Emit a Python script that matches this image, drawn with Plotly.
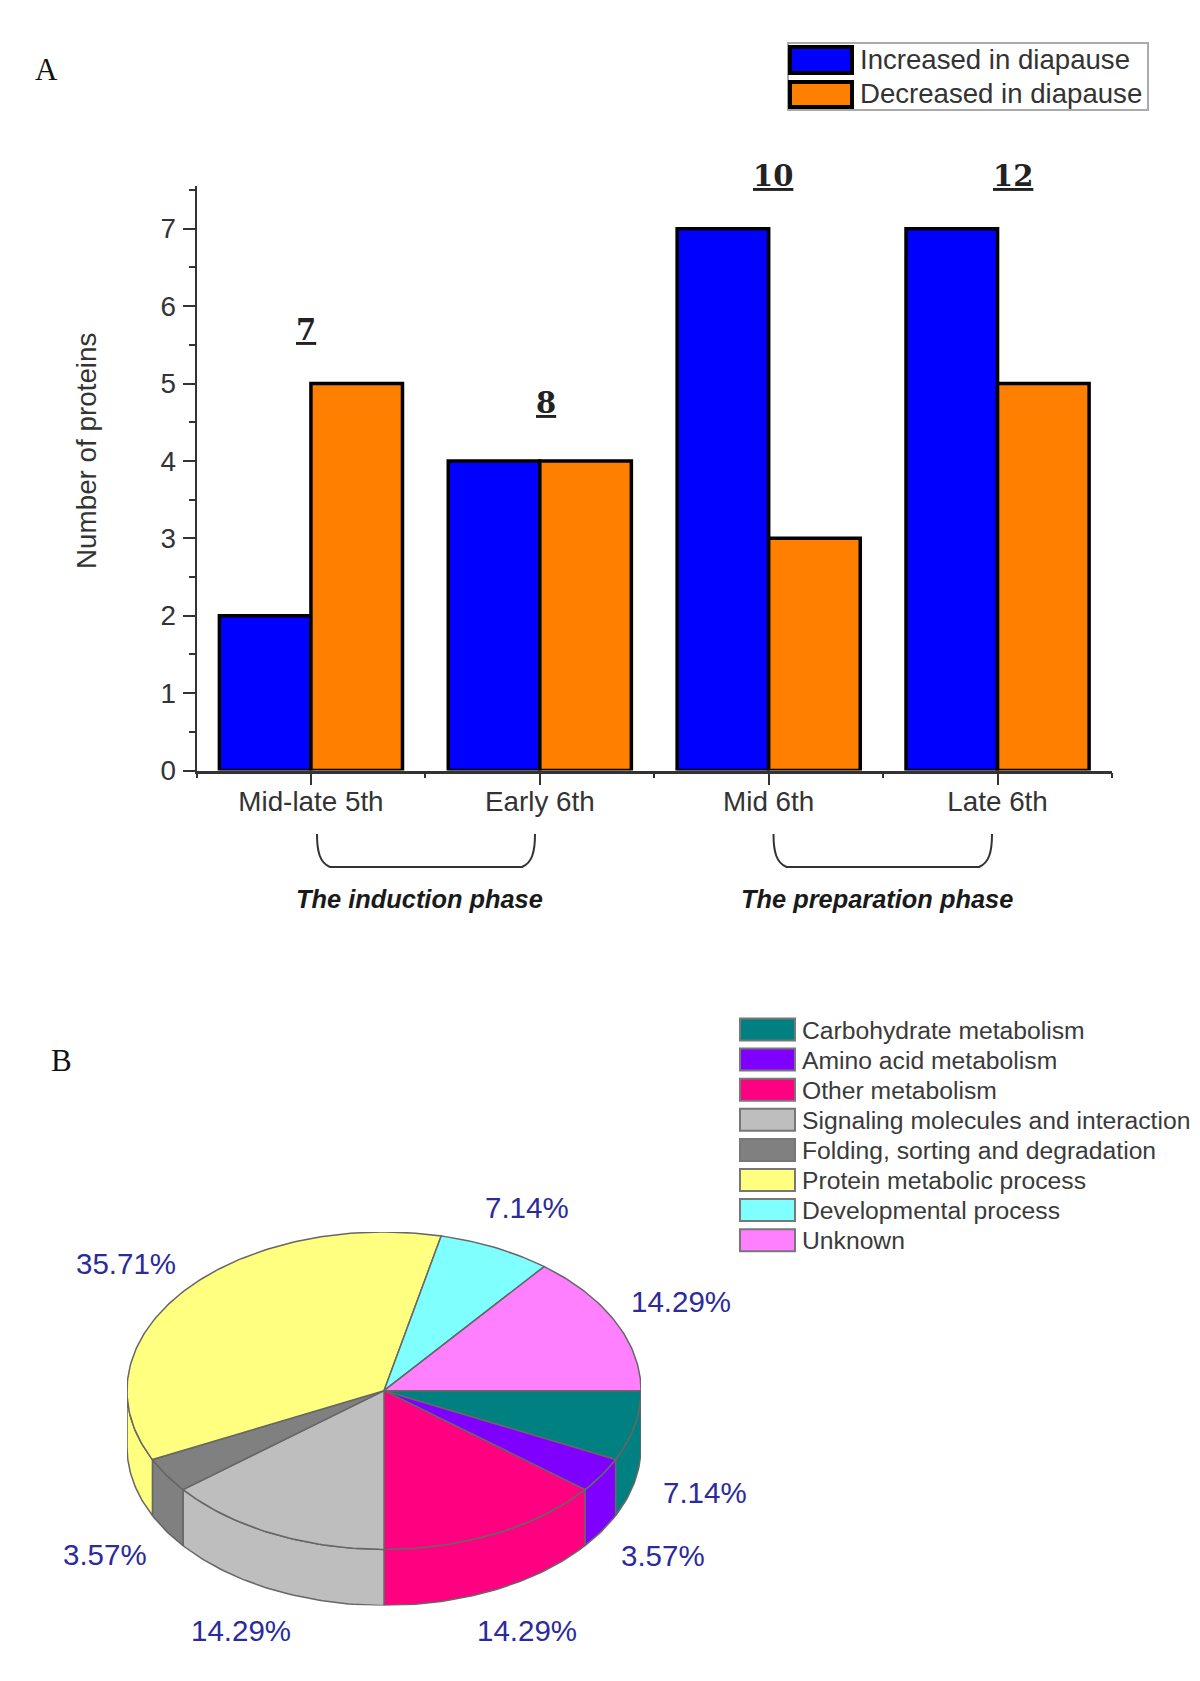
import numpy as np
import plotly.graph_objects as go

# ---- data ----
categories = ["Mid-late 5th", "Early 6th", "Mid 6th", "Late 6th"]
increased = [2, 4, 7, 7]
decreased = [5, 4, 3, 5]
series_names = ["Increased in diapause", "Decreased in diapause"]
phases = ["The induction phase", "The preparation phase"]

pie_labels = ["Carbohydrate metabolism", "Amino acid metabolism", "Other metabolism",
              "Signaling molecules and interaction", "Folding, sorting and degradation",
              "Protein metabolic process", "Developmental process", "Unknown"]
pie_shares = [7.14, 3.57, 14.29, 14.29, 3.57, 35.71, 7.14, 14.29]

# ---- style ----
W, H = 1200, 1681
BLUE, ORANGE = "#0000FF", "#FF8000"
pie_colors = ["#008080", "#8000FF", "#FF0080", "#BEBEBE", "#808080", "#FFFF80", "#80FFFF", "#FF80FF"]
INK = "#333333"
SANS = "Liberation Sans, Arial, sans-serif"
SERIF = "Liberation Serif, Times New Roman, serif"
PCT = "#2B2B9B"
EDGE = "#666666"


def px(x):
    return x / W


def py(y):
    return 1 - y / H


def note(x, y, text, size, color=INK, family=SANS, **kw):
    return dict(xref="paper", yref="paper", x=px(x), y=py(y), text=text, showarrow=False,
                xanchor=kw.pop("xanchor", "center"), yanchor="middle",
                font=dict(size=size, color=color, family=family), **kw)


def rect(x0, y0, x1, y1, fill, line, width):
    return dict(type="rect", xref="paper", yref="paper", x0=px(x0), x1=px(x1), y0=py(y1), y1=py(y0),
                fillcolor=fill, line=dict(color=line, width=width))


def bracket(x0, x1):
    yt, yb = 834, 867
    p = (f"M {px(x0)} {py(yt)} C {px(x0)} {py(yt + 18)}, {px(x0 + 3)} {py(yb - 4)}, {px(x0 + 13)} {py(yb)} "
         f"L {px(x1 - 13)} {py(yb)} C {px(x1 - 3)} {py(yb - 4)}, {px(x1)} {py(yt + 18)}, {px(x1)} {py(yt)}")
    return dict(type="path", xref="paper", yref="paper", path=p, line=dict(color=INK, width=2))


fig = go.Figure()

# ---- panel A: grouped bars ----
xs = list(range(len(categories)))
for name, vals, col in zip(series_names, [increased, decreased], [BLUE, ORANGE]):
    fig.add_trace(go.Bar(x=xs, y=vals, name=name, marker=dict(color=col, line=dict(color="#000000", width=3.5)),
                         showlegend=False, hoverinfo="skip"))

# ---- panel B: tilted pie, drawn from the shares ----
DEPTH = 0.353
edges = np.cumsum([0] + pie_shares) / sum(pie_shares) * 2 * np.pi


def arc(a, b):
    t = np.linspace(a, b, max(2, int((b - a) * 60)))
    return np.cos(t), -np.sin(t)


def poly(x, y, col):
    fig.add_trace(go.Scatter(x=x, y=y, xaxis="x2", yaxis="y2", mode="lines", fill="toself", fillcolor=col,
                             line=dict(color=EDGE, width=1.5), showlegend=False, hoverinfo="skip"))


# side walls (only the front half shows)
for i, col in enumerate(pie_colors):
    a, b = edges[i], min(edges[i + 1], np.pi)
    if a < b:
        x, y = arc(a, b)
        poly(np.r_[x, x[::-1], x[0]], np.r_[y, y[::-1] - DEPTH, y[0]], col)
# top face
for i, col in enumerate(pie_colors):
    x, y = arc(edges[i], edges[i + 1])
    poly(np.r_[0, x, 0], np.r_[0, y, 0], col)

# ---- annotations and legends ----
annotations = []
shapes = []

# totals over the bar groups
total_pos = [(306, 330), (546, 403), (773, 176), (1013, 176)]
for (x, y), a, b in zip(total_pos, increased, decreased):
    annotations.append(note(x, y, f"<b><u>{a + b}</u></b>", 29, "#222222", "DejaVu Serif"))

annotations.append(note(86, 451, "Number of proteins", 27.8, textangle=-90))
annotations.append(note(46, 69.5, "A", 31, "#111111", SERIF))
annotations.append(note(61, 1060, "B", 31, "#111111", SERIF))

for (x, t) in zip([419, 877], phases):
    annotations.append(note(x, 899, f"<b><i>{t}</i></b>", 25.4, "#1a1a1a"))
shapes += [bracket(317, 535), bracket(773.5, 992)]

# top legend
shapes.append(rect(788, 43, 1148, 110, "#FFFFFF", "#AAAAAA", 2))
for name, col, y0, y1, yt in zip(series_names, [BLUE, ORANGE], [47, 82], [73, 107], [60, 94]):
    shapes.append(rect(790, y0, 852, y1, col, "#000000", 4))
    annotations.append(note(858, yt, name, 27.6, xanchor="left"))

# pie legend
for i, (name, col) in enumerate(zip(pie_labels, pie_colors)):
    yc = 1029.5 + i * 30.1
    shapes.append(rect(740, yc - 11, 795, yc + 11, col, "#777777", 2))
    annotations.append(note(800, yc + 0.5, name, 24.7, "#3a3a3a", xanchor="left"))

# pie percentages
pct_pos = [(705, 1492), (663, 1555), (527, 1630), (241, 1630), (104.5, 1554), (125.5, 1263), (527, 1207), (681, 1301)]
for (x, y), s in zip(pct_pos, pie_shares):
    annotations.append(note(x, y, f"{s:.2f}%", 29.5, PCT))

fig.update_layout(
    width=W, height=H, autosize=False, margin=dict(l=0, r=0, t=0, b=0, pad=0),
    paper_bgcolor="#FFFFFF", plot_bgcolor="#FFFFFF",
    barmode="group", bargap=0.2, bargroupgap=0,
    font=dict(family=SANS, color=INK),
    annotations=annotations, shapes=shapes,
    xaxis=dict(domain=[px(196.5), px(1112)], range=[-0.5, 3.5], tickmode="array", tickvals=xs, ticktext=categories,
               ticks="outside", ticklen=12, tickwidth=2, tickcolor=INK, showline=True, linecolor=INK, linewidth=2.5,
               showgrid=False, zeroline=False, tickfont=dict(size=27.8, color=INK), automargin=False,
               ticklabelstandoff=-8,
               minor=dict(tickvals=[v - 0.5 for v in xs] + [xs[-1] + 0.5], ticks="outside", ticklen=5, tickwidth=2,
                          tickcolor=INK, showgrid=False), anchor="y"),
    yaxis=dict(domain=[py(770.5), py(186)], range=[0, 7.552], tick0=0, dtick=1, ticks="outside", ticklen=12,
               tickwidth=2, tickcolor=INK, showline=True, linecolor=INK, linewidth=2, showgrid=False, zeroline=False,
               tickfont=dict(size=27.8, color=INK), automargin=False, ticklabelstandoff=1,
               minor=dict(tick0=0, dtick=0.5, ticks="outside", ticklen=6, tickwidth=2, tickcolor=INK, showgrid=False),
               anchor="x"),
    xaxis2=dict(domain=[px(127), px(641)], range=[-1, 1], visible=False, anchor="y2", automargin=False),
    yaxis2=dict(domain=[py(1605.4), py(1232)], range=[-1 - DEPTH, 1], visible=False, anchor="x2", automargin=False),
)

fig.write_html("out.html", config={"displayModeBar": False},
               post_script="document.body.style.margin='0';document.body.style.overflow='hidden';")
